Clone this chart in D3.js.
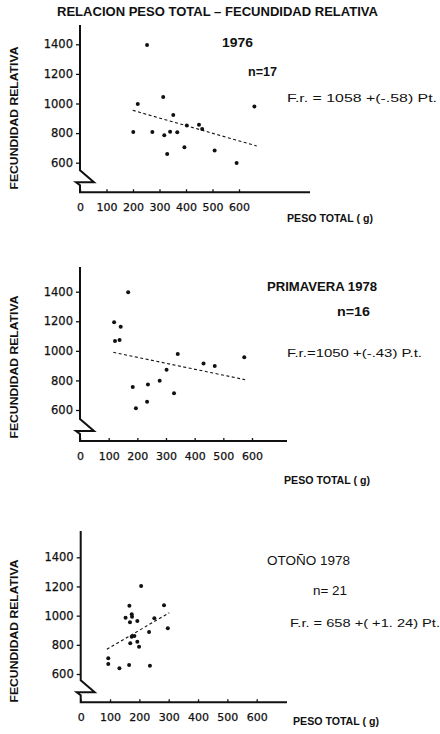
<!DOCTYPE html>
<html>
<head>
<meta charset="utf-8">
<script src="https://cdn.jsdelivr.net/npm/d3@7"></script>
<style>
  body { margin: 0; background: #fff; }
  svg { display: block; }
  text { fill: #111; }
</style>
</head>
<body>
<div id="chart"></div>
<script>
const xTicks = [0, 100, 200, 300, 400, 500, 600];
const yTicks = [600, 800, 1000, 1200, 1400];

// 1976
const peso1976 = [253, 314, 218, 658, 352, 403, 449, 461, 201, 273, 340, 367, 318, 394, 508, 329, 591];
const fecund1976 = [1395, 1044, 997, 979, 922, 852, 856, 827, 807, 807, 809, 805, 785, 704, 683, 659, 598];
const trend1976 = [[199, 954], [667, 713]];

// Primavera 1978
const pesoPrim1978 = [168, 119, 142, 122, 138, 341, 184, 195, 237, 234, 278, 302, 328, 431, 470, 573];
const fecundPrim1978 = [1396, 1193, 1163, 1066, 1073, 979, 756, 612, 772, 655, 797, 873, 713, 914, 898, 957];
const trendPrim1978 = [[116, 990], [576, 805]];

// Otoño 1978
const pesoOto1978 = [206, 166, 284, 153, 174, 175, 193, 168, 251, 297, 233, 174, 183, 169, 193, 199, 94, 94, 132, 165, 236];
const fecundOto1978 = [1203, 1068, 1071, 986, 1009, 993, 963, 954, 982, 913, 888, 856, 860, 810, 821, 787, 708, 669, 639, 662, 657];
const trendOto1978 = [[89, 769], [302, 1020]];

const panelTitles = ['1976', 'PRIMAVERA 1978', 'OTOÑO 1978'];
const panelN = ['n=17', 'n=16', 'n= 21'];
const panelEq = ['F.r.  =  1058 +(-.58) Pt.', 'F.r.=1050 +(-.43) P.t.', 'F.r. = 658 +( +1. 24)  Pt.'];

const panels = [
  {
    peso: peso1976, fecund: fecund1976, trend: trend1976,
    ax: 80, xw: 159, y1400: 44.3, y600: 162.7, xAxisY: 192.3, yTop: 25, xRight: 310,
    title: [222, 47, 'start', 31], n: [248, 76, 'start', 29], eq: [287, 102, 'start', 150],
    xLab: [287, 222], yLabY: 118, headWeight: 'bold',
  },
  {
    peso: pesoPrim1978, fecund: fecundPrim1978, trend: trendPrim1978,
    ax: 80, xw: 172, y1400: 291.7, y600: 410, xAxisY: 441, yTop: 267, xRight: 287,
    title: [267, 291, 'start', 110], n: [337, 316, 'start', 33], eq: [287, 357, 'start', 135],
    xLab: [284, 484], yLabY: 367, headWeight: 'bold',
  },
  {
    peso: pesoOto1978, fecund: fecundOto1978, trend: trendOto1978,
    ax: 80.7, xw: 176, y1400: 557.3, y600: 674, xAxisY: 702.3, yTop: 531, xRight: 287,
    title: [267, 565, 'start', 83], n: [313, 595, 'start', 34], eq: [290, 627, 'start', 150],
    xLab: [293, 725], yLabY: 631, headWeight: 'normal',
  },
];

const svg = d3.select('#chart').append('svg')
  .attr('width', 440)
  .attr('height', 734);

svg.append('text')
  .attr('x', 57)
  .attr('y', 16)
  .attr('textLength', 321)
  .attr('lengthAdjust', 'spacingAndGlyphs')
  .style('font-family', 'Liberation Sans, Arial, sans-serif')
  .style('font-weight', 'bold')
  .style('font-size', '12px')
  .text('RELACION  PESO TOTAL – FECUNDIDAD RELATIVA');

function drawPanel(p, i) {
  const x = d3.scaleLinear().domain([0, 600]).range([p.ax, p.ax + p.xw]);
  const y = d3.scaleLinear().domain([600, 1400]).range([p.y600, p.y1400]);
  const g = svg.append('g');

  // axis line with the broken y axis
  const b = p.xAxisY;
  const axisPath = d3.path();
  axisPath.moveTo(p.ax, p.yTop);
  axisPath.lineTo(p.ax, b - 22);
  axisPath.lineTo(p.ax + 14, b - 10);
  axisPath.lineTo(p.ax - 4, b - 10);
  axisPath.lineTo(p.ax, b - 7);
  axisPath.lineTo(p.ax, b);
  axisPath.lineTo(p.xRight, b);
  g.append('path')
    .attr('d', axisPath.toString())
    .attr('fill', 'none')
    .attr('stroke', '#111')
    .attr('stroke-width', 2)
    .attr('stroke-linejoin', 'miter');

  const yAxis = g.append('g')
    .attr('transform', `translate(${p.ax}, 0)`)
    .call(d3.axisLeft(y).tickValues(yTicks).tickFormat(d3.format('d')).tickSize(4).tickPadding(3));
  const xAxis = g.append('g')
    .attr('transform', `translate(0, ${b})`)
    .call(d3.axisBottom(x).tickValues(xTicks).tickFormat(d3.format('d')).tickSizeInner(-3).tickSizeOuter(0).tickPadding(11));

  [yAxis, xAxis].forEach((a) => {
    a.select('.domain').remove();
    a.selectAll('line').attr('stroke', '#111').attr('stroke-width', 1.3);
    a.selectAll('text')
      .style('font-family', 'DejaVu Sans, sans-serif')
      .style('font-size', '11px')
      .attr('fill', '#111')
      .attr('stroke', '#111')
      .attr('stroke-width', 0.25);
  });
  yAxis.selectAll('text').style('font-size', '11.5px');

  const pts = p.peso.map((v, k) => ({ peso: v, fr: p.fecund[k] }));
  g.selectAll('circle')
    .data(pts)
    .enter()
    .append('circle')
    .attr('cx', d => x(d.peso))
    .attr('cy', d => y(d.fr))
    .attr('r', 2)
    .attr('fill', '#111');

  const line = d3.line()
    .x(d => x(d[0]))
    .y(d => y(d[1]));
  g.append('path')
    .attr('d', line(p.trend))
    .attr('fill', 'none')
    .attr('stroke', '#111')
    .attr('stroke-width', 1.1)
    .attr('stroke-dasharray', '3,2.5');

  const label = (pos, txt, size) => {
    const t = g.append('text')
      .attr('x', pos[0])
      .attr('y', pos[1])
      .attr('text-anchor', pos[2])
      .style('font-family', 'Liberation Sans, Arial, sans-serif')
      .style('font-weight', 'bold')
      .style('font-size', size)
      .text(txt);
    if (pos[3]) t.attr('textLength', pos[3]).attr('lengthAdjust', 'spacingAndGlyphs');
    return t;
  };
  label(p.title, panelTitles[i], '12px').style('font-weight', p.headWeight);
  label(p.n, panelN[i], '12px').style('font-weight', p.headWeight);
  label(p.eq, panelEq[i], '11px').style('font-weight', 'normal');

  g.append('text')
    .attr('x', p.xLab[0])
    .attr('y', p.xLab[1])
    .attr('textLength', 86)
    .attr('lengthAdjust', 'spacingAndGlyphs')
    .style('font-family', 'Liberation Sans, Arial, sans-serif')
    .style('font-weight', 'bold')
    .style('font-size', '10px')
    .text('PESO TOTAL ( g)');

  g.append('text')
    .attr('transform', `translate(18, ${p.yLabY}) rotate(-90)`)
    .attr('text-anchor', 'middle')
    .attr('textLength', 143)
    .attr('lengthAdjust', 'spacingAndGlyphs')
    .style('font-family', 'Liberation Sans, Arial, sans-serif')
    .style('font-weight', 'bold')
    .style('font-size', '11.5px')
    .text('FECUNDIDAD RELATIVA');
}

panels.forEach(drawPanel);
</script>
</body>
</html>
